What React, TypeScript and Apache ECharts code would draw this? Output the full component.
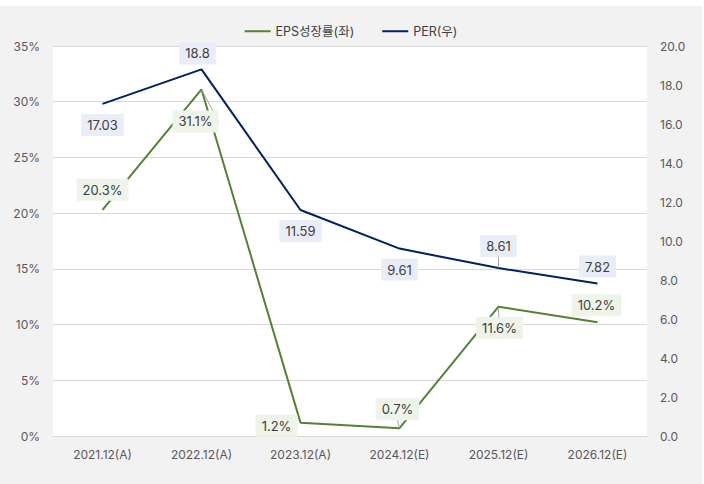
import React, { useEffect, useRef } from "react";
import * as echarts from "echarts";

const categories = ["2021.12(A)", "2022.12(A)", "2023.12(A)", "2024.12(E)", "2025.12(E)", "2026.12(E)"];
const epsGrowth = [20.3, 31.1, 1.2, 0.7, 11.6, 10.2];
const per = [17.03, 18.8, 11.59, 9.61, 8.61, 7.82];
const epsLabelOffsets: number[][] = [[0, -20], [-6, 32], [-24, 3], [-2, -19], [1, 21], [-1, -17]];
const perLabelOffsets: number[][] = [[0, 21], [-4, -16], [0, 21], [0, 21], [0, -22], [0, -17]];
const epsLabelLines = [false, true, false, true, true, false];
const perLabelLines = [false, false, false, false, true, false];

const FONT = "Inter, 'Noto Sans CJK KR', sans-serif";
const GREEN = "#548235";
const NAVY = "#002060";

export default function App() {
  const ref = useRef<HTMLDivElement>(null);
  useEffect(() => {
    if (!ref.current) return;
    const chart = echarts.init(ref.current, null, { renderer: "svg" });
    const mkData = (vals: number[], offs: number[][], lines: boolean[], bg: string, fmt: (v: number) => string) =>
      vals.map((v, i) => ({
        value: v,
        label: {
          show: true,
          position: "inside",
          offset: offs[i],
          formatter: fmt(v),
          backgroundColor: bg,
          padding: [5, 6, 4, 6],
          color: "#404040",
          fontSize: 13,
          fontFamily: FONT,
        },
        labelLine: { show: lines[i], lineStyle: { color: "#a6a6a6", width: 1 } },
      }));
    chart.setOption({
      animation: false,
      backgroundColor: "#f2f2f2",
      textStyle: { fontFamily: FONT },
      legend: {
        top: 14,
        left: "center",
        itemWidth: 26,
        itemHeight: 2,
        itemGap: 28,
        icon: "rect",
        textStyle: { color: "#404040", fontSize: 12.5, fontFamily: FONT },
        data: [
          { name: "EPS성장률(좌)", itemStyle: { color: GREEN, opacity: 1 } },
          { name: "PER(우)", itemStyle: { color: NAVY, opacity: 1 } },
        ],
      },
      grid: {
        left: 53,
        right: 55,
        top: 40,
        bottom: 48,
        show: true,
        backgroundColor: "#ffffff",
        borderWidth: 0,
      },
      xAxis: {
        type: "category",
        data: categories,
        axisLine: { show: true, lineStyle: { color: "#d9d9d9" } },
        axisTick: { show: false },
        axisLabel: { color: "#595959", fontSize: 12, margin: 12, fontFamily: FONT },
      },
      yAxis: [
        {
          type: "value",
          min: 0,
          max: 35,
          interval: 5,
          axisLabel: { formatter: "{value}%", color: "#595959", fontSize: 12, margin: 13, fontFamily: FONT },
          splitLine: { lineStyle: { color: "#d9d9d9" } },
          axisLine: { show: false },
          axisTick: { show: false },
        },
        {
          type: "value",
          min: 0,
          max: 20,
          interval: 2,
          axisLabel: { formatter: (v: number) => v.toFixed(1), color: "#595959", fontSize: 12, margin: 13, fontFamily: FONT },
          splitLine: { show: false },
          axisLine: { show: false },
          axisTick: { show: false },
        },
      ],
      series: [
        {
          name: "EPS성장률(좌)",
          type: "line",
          yAxisIndex: 0,
          symbol: "circle",
          symbolSize: 1,
          showSymbol: true,
          lineStyle: { color: GREEN, width: 2 },
          itemStyle: { color: "rgba(0,0,0,0)", borderWidth: 0 },
          data: mkData(epsGrowth, epsLabelOffsets, epsLabelLines, "#eef4e9", (v) => v.toFixed(1) + "%"),
          z: 3,
        },
        {
          name: "PER(우)",
          type: "line",
          yAxisIndex: 1,
          symbol: "circle",
          symbolSize: 1,
          showSymbol: true,
          lineStyle: { color: NAVY, width: 2 },
          itemStyle: { color: "rgba(0,0,0,0)", borderWidth: 0 },
          data: mkData(per, perLabelOffsets, perLabelLines, "#e9edf7", (v) => String(v)),
          z: 2,
        },
      ],
    });
    return () => chart.dispose();
  }, []);
  return (
    <div style={{ position: "fixed", left: 0, top: 0, width: 704, height: 484, background: "#ffffff" }}>
      <div ref={ref} style={{ position: "absolute", left: 0, top: 6, width: 702, height: 478 }} />
    </div>
  );
}
